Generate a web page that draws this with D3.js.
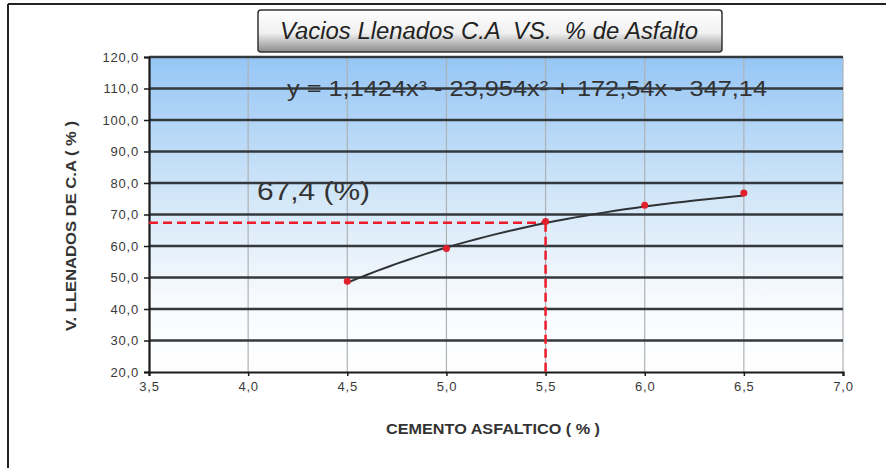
<!DOCTYPE html>
<html>
<head>
<meta charset="utf-8">
<title>Vacios Llenados C.A VS. % de Asfalto</title>
<style>
    html, body { margin: 0; background: #fff; }
    svg { display: block; font-family: "Liberation Sans", Arial, sans-serif; }
</style>
</head>
<body>
<svg id="chart" width="893" height="470"></svg>
<script src="https://d3js.org/d3.v7.min.js"></script>
<script>
    "use strict";

    // data
    const asphalt = [4.5, 5.0, 5.5, 6.0, 6.5];
    const vfa = [48.8, 59.2, 67.8, 72.9, 76.8];
    const trendCoef = [1.1424, -23.954, 172.54, -347.14];   // x^3, x^2, x, 1
    const optimumX = 5.5;
    const optimumY = 67.4;
    const xTicks = [3.5, 4.0, 4.5, 5.0, 5.5, 6.0, 6.5, 7.0];
    const yTicks = [20, 30, 40, 50, 60, 70, 80, 90, 100, 110, 120];

    const svg = d3.select("#chart");
    const comma = d => d3.format(".1f")(d).replace(".", ",");

    const x = d3.scaleLinear().domain([3.5, 7.0]).range([149, 843]);
    const y = d3.scaleLinear().domain([20, 120]).range([372, 57]);

    // outer frame
    svg.append("line").attr("x1", 8).attr("x2", 886).attr("y1", 4).attr("y2", 4)
        .attr("stroke", "#222").attr("stroke-width", 2);
    svg.append("line").attr("x1", 8).attr("x2", 8).attr("y1", 4).attr("y2", 468)
        .attr("stroke", "#222").attr("stroke-width", 2);

    // plot background gradient
    const defs = svg.append("defs");
    const bg = defs.append("linearGradient").attr("id", "bg")
        .attr("x1", 0).attr("x2", 0).attr("y1", 0).attr("y2", 1);
    bg.append("stop").attr("offset", "0%").attr("stop-color", "#96c6f6");
    bg.append("stop").attr("offset", "45%").attr("stop-color", "#d3e7f8");
    bg.append("stop").attr("offset", "75%").attr("stop-color", "#f6f9fd");
    bg.append("stop").attr("offset", "100%").attr("stop-color", "#ffffff");

    const btn = defs.append("linearGradient").attr("id", "btn")
        .attr("x1", 0).attr("x2", 0).attr("y1", 0).attr("y2", 1);
    btn.append("stop").attr("offset", "0%").attr("stop-color", "#ffffff");
    btn.append("stop").attr("offset", "55%").attr("stop-color", "#f0f0f0");
    btn.append("stop").attr("offset", "100%").attr("stop-color", "#8a8a8a");

    svg.append("rect")
        .attr("x", x(3.5)).attr("y", y(120))
        .attr("width", x(7.0) - x(3.5)).attr("height", y(20) - y(120))
        .attr("fill", "url(#bg)");

    // vertical grid
    svg.append("g").selectAll("line").data(xTicks.slice(1)).join("line")
        .attr("x1", d => x(d)).attr("x2", d => x(d))
        .attr("y1", y(120)).attr("y2", y(20))
        .attr("stroke", "#aeb2b5").attr("stroke-width", 1.2);

    // horizontal grid
    svg.append("g").selectAll("line").data(yTicks.slice(1)).join("line")
        .attr("x1", x(3.5)).attr("x2", x(7.0))
        .attr("y1", d => y(d)).attr("y2", d => y(d))
        .attr("stroke", "#34393e").attr("stroke-width", 2.6);

    // axes
    const yAxis = svg.append("g").attr("transform", `translate(${x(3.5)},0)`)
        .call(d3.axisLeft(y).tickValues(yTicks).tickFormat(comma).tickSize(5).tickPadding(5));
    const xAxis = svg.append("g").attr("transform", `translate(0,${y(20)})`)
        .call(d3.axisBottom(x).tickValues(xTicks).tickFormat(comma).tickSize(4).tickPadding(6));
    [xAxis, yAxis].forEach(a => {
        a.select(".domain").attr("stroke", "#1a1a1a").attr("stroke-width", 2.2);
        a.selectAll(".tick line").attr("stroke", "#1a1a1a").attr("stroke-width", 1.5);
        a.selectAll(".tick text").attr("fill", "#3a3a3a")
            .attr("font-family", "'Liberation Sans', Arial, sans-serif").attr("font-size", 13)
            .attr("letter-spacing", 0.8);
    });

    // red dashed reading lines
    svg.append("line")
        .attr("x1", x(3.5)).attr("x2", x(optimumX))
        .attr("y1", y(optimumY)).attr("y2", y(optimumY))
        .attr("stroke", "#ec1c2a").attr("stroke-width", 2.5).attr("stroke-dasharray", "9,5");
    svg.append("line")
        .attr("x1", x(optimumX)).attr("x2", x(optimumX))
        .attr("y1", y(optimumY)).attr("y2", y(20))
        .attr("stroke", "#ec1c2a").attr("stroke-width", 2.5).attr("stroke-dasharray", "9,5");

    // polynomial trend line (coefficients from the chart)
    const poly = v => trendCoef.reduce((acc, c) => acc * v + c, 0);
    const trendX = d3.range(asphalt[0], asphalt[asphalt.length - 1] + 0.001, 0.05);
    svg.append("path")
        .datum(trendX)
        .attr("fill", "none").attr("stroke", "#2f3336").attr("stroke-width", 2)
        .attr("d", d3.line().x(d => x(d)).y(d => y(poly(d))));

    // markers
    svg.append("g").selectAll("circle").data(asphalt).join("circle")
        .attr("cx", d => x(d)).attr("cy", (d, i) => y(vfa[i]))
        .attr("r", 3.5).attr("fill", "#e0202c");

    // equation and reading label
    svg.append("text")
        .attr("x", 287).attr("y", y(110)).attr("dy", "0.35em")
        .attr("font-size", 22).attr("fill", "#333")
        .attr("textLength", 480).attr("lengthAdjust", "spacingAndGlyphs")
        .text("y = 1,1424x³ - 23,954x² + 172,54x - 347,14");
    svg.append("text")
        .attr("x", 257).attr("y", y(77.5)).attr("dy", "0.35em")
        .attr("font-size", 26).attr("fill", "#333")
        .attr("textLength", 113).attr("lengthAdjust", "spacingAndGlyphs")
        .text(comma(optimumY) + " (%)");

    // axis titles
    svg.append("text")
        .attr("transform", `translate(76,226) rotate(-90)`)
        .attr("text-anchor", "middle").attr("font-size", 14).attr("font-weight", "bold")
        .attr("fill", "#333")
        .attr("textLength", 210).attr("lengthAdjust", "spacingAndGlyphs")
        .text("V. LLENADOS DE C.A ( % )");
    svg.append("text")
        .attr("x", 386).attr("y", 434)
        .attr("font-size", 14).attr("font-weight", "bold")
        .attr("fill", "#333")
        .attr("textLength", 214).attr("lengthAdjust", "spacingAndGlyphs")
        .text("CEMENTO ASFALTICO ( % )");

    // title button
    svg.append("rect")
        .attr("x", 258).attr("y", 10).attr("width", 464).attr("height", 42).attr("rx", 3)
        .attr("fill", "url(#btn)").attr("stroke", "#333").attr("stroke-width", 1.5);
    svg.append("text")
        .attr("x", 280).attr("y", 31).attr("dy", "0.35em")
        .attr("font-size", 23).attr("font-style", "italic")
        .attr("fill", "#222")
        .attr("textLength", 418).attr("lengthAdjust", "spacingAndGlyphs")
        .attr("xml:space", "preserve").style("white-space", "pre")
        .text("Vacios Llenados C.A  VS.  % de Asfalto");
</script>
</body>
</html>
